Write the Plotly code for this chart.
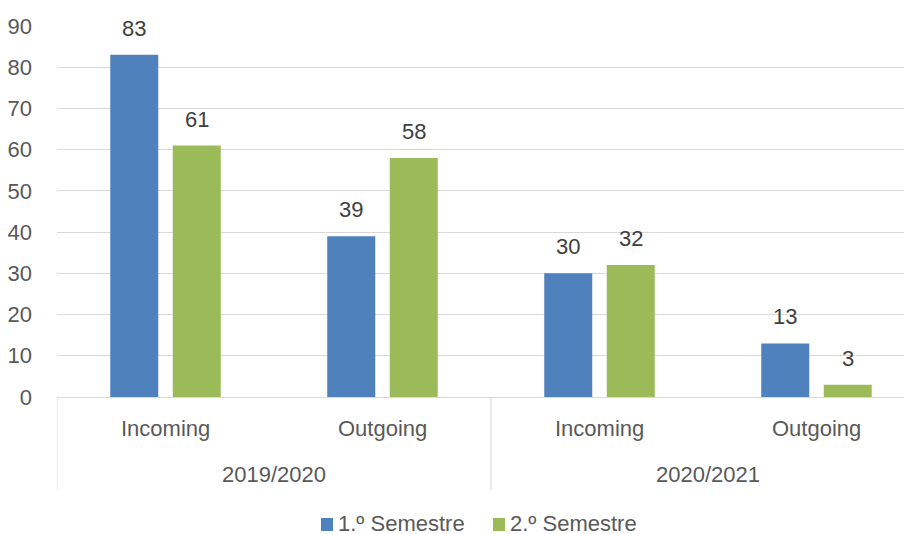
import plotly.graph_objects as go

years = ["2019/2020", "2020/2021"]
kinds = ["Incoming", "Outgoing"]
sem1 = [83, 39, 30, 13]
sem2 = [61, 58, 32, 3]
series_names = ["1.º Semestre", "2.º Semestre"]
colors = ["#4F81BD", "#9BBB59"]

cats = [f"{y}|{k}" for y in years for k in kinds]

FONT = "Liberation Sans"
TXT = "#595959"
LBL = "#404040"
FS = 22
GRID = "#D9D9D9"

# page body has an 8px margin, so the figure is sized/placed to compensate
W, H = 904, 526
L, R, T, B = 49, 0, 18, 137
CAT_PX = 217  # the original plot area runs past the right edge of the picture
BARGAP, GROUPGAP = 0.424, 0.232
plot_w = W - L - R
plot_h = H - T - B
x_max = -0.5 + plot_w / CAT_PX
half = (1 - BARGAP) * CAT_PX / 4


def px_x(px):
    return px / plot_w


def px_y(px):
    return px / plot_h


fig = go.Figure()
for i, (name, vals, col) in enumerate(zip(series_names, [sem1, sem2], colors)):
    fig.add_trace(go.Bar(x=cats, y=vals, name=name, marker_color=col, marker_line_width=0,
                         showlegend=False))
    sh = -half if i == 0 else half
    for c, v in zip(cats, vals):
        fig.add_annotation(x=c, y=v, xref="x", yref="y", text=str(v), showarrow=False,
                           yanchor="bottom", xanchor="center", xshift=sh, yshift=12,
                           font=dict(family=FONT, size=FS, color=LBL))

# category labels (two levels)
for c in cats:
    fig.add_annotation(x=c, y=0, xref="x", yref="paper", text=c.split("|")[1], showarrow=False,
                       yanchor="middle", yshift=-31, font=dict(family=FONT, size=FS, color=TXT))
for j, yv in enumerate(years):
    fig.add_annotation(x=(2 * j + 0.5), y=0, xref="x", yref="paper", text=yv, showarrow=False,
                       yanchor="middle", yshift=-77, font=dict(family=FONT, size=FS, color=TXT))
# dividers
for xd in [-0.5, 1.5]:
    fig.add_shape(type="line", xref="x", yref="paper", x0=xd, x1=xd, y0=0, y1=-px_y(93),
                  line=dict(color=GRID, width=1))

# legend (swatch + text)
legend_x = [313 - L, 485 - L]
for name, col, lx in zip(series_names, colors, legend_x):
    fig.add_shape(type="rect", xref="paper", yref="paper",
                  x0=px_x(lx), x1=px_x(lx + 12), y0=-px_y(121), y1=-px_y(134),
                  line=dict(width=0), fillcolor=col)
    fig.add_annotation(x=px_x(lx + 16), y=-px_y(126), xref="paper", yref="paper", text=name,
                       showarrow=False, xanchor="left", yanchor="middle", height=20,
                       valign="middle", borderpad=0,
                       font=dict(family=FONT, size=FS, color=TXT))

fig.update_layout(
    width=W, height=H,
    paper_bgcolor="white", plot_bgcolor="white",
    margin=dict(l=L, r=R, t=T, b=B),
    barmode="group", bargap=BARGAP, bargroupgap=GROUPGAP,
    font=dict(family=FONT, size=FS, color=TXT),
    showlegend=False,
    yaxis=dict(range=[0, 90], dtick=10, showgrid=True, gridcolor=GRID, gridwidth=1,
               zeroline=False, showline=False, ticks="", ticklabelstandoff=24, automargin=False,
               tickfont=dict(family=FONT, size=FS, color=TXT)),
    xaxis=dict(type="category", range=[-0.5, x_max], showline=True, linecolor=GRID, linewidth=1,
               showticklabels=False, ticks="", showgrid=False, automargin=False),
)

fig.write_html("out.html")
